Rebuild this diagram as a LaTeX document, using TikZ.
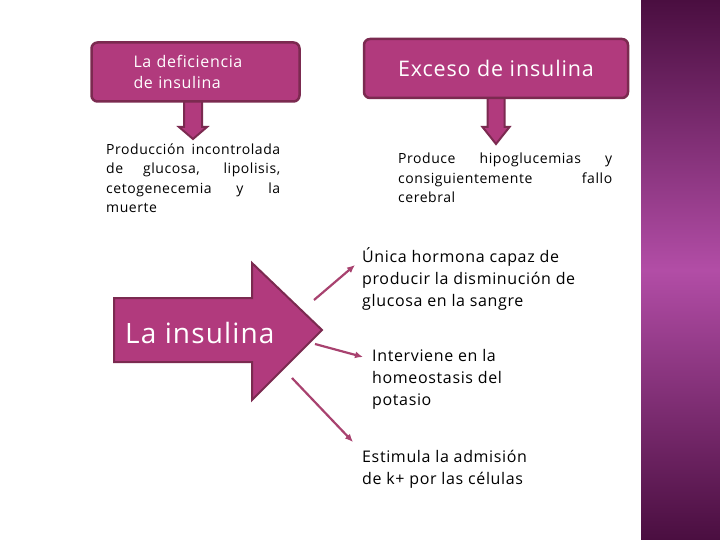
\documentclass[tikz,border=0pt]{standalone}
\usepackage{fontspec}
\setmainfont[Ligatures=NoCommon, LetterSpace=4]{Open Sans}
\usepackage{xcolor}
\usepackage{tikz}
\usetikzlibrary{arrows.meta, positioning}
\definecolor{plum}{HTML}{B13A7D}
\definecolor{plumdark}{HTML}{7B2A50}
\definecolor{linkc}{HTML}{A8426F}
\definecolor{stripdark}{HTML}{4A0E40}
\definecolor{striplight}{HTML}{B24DA6}

\begin{document}
\begin{tikzpicture}[x=1pt, y=-1pt,
            plumbox/.style={draw=plumdark, fill=plum, line width=2.5pt, rounded corners=6pt, text=white},
            plumarrow/.style={draw=plumdark, fill=plum, line width=2pt},
            link/.style={draw=linkc, line width=2.2pt, -{Latex[length=8pt, width=7pt]}},
            note/.style={anchor=north west, align=left, inner sep=0pt, font=\fontsize{16}{22}\selectfont},
            para/.style={anchor=north west, align=justify, inner sep=0pt, font=\fontsize{14}{19.5}\selectfont},
        ]
        \useasboundingbox (0,0) rectangle (720,540);
        \fill[white] (0,0) rectangle (720,540);
        \shade[top color=stripdark, bottom color=stripdark, middle color=striplight] (641,0) rectangle (720,540);
        % arrows under the two boxes
        \draw[plumarrow, shift={(193,0)}] (-9,94) -- (-9,127) -- (-14,127) -- (0,139) -- (14,127) -- (9,127) -- (9,94) -- cycle;
        \draw[plumarrow, shift={(496,0)}] (-8.5,94) -- (-8.5,127) -- (-13.5,127) -- (0,144) -- (13.5,127) -- (8.5,127) -- (8.5,94) -- cycle;
        \node[plumbox, minimum width=208, minimum height=59, text width=124, align=left,
              font=\fontsize{16}{21}\selectfont] (deficit) at (195.5,72) {La deficiencia\\de insulina};
        \node[plumbox, minimum width=264, minimum height=59,
              font=\fontsize{21.5}{25}\selectfont] (excess) at (496,68.5) {Exceso de insulina};
        \node[para, text width=174] (effect1) at (106,143.5) {Producción incontrolada\linebreak de glucosa, lipolisis,\linebreak cetogenecemia y la\linebreak muerte};
        \node[para, text width=214] (effect2) at (398,153) {Produce hipoglucemias y\linebreak consiguientemente fallo\linebreak cerebral};
        % big arrow
        \draw[plumarrow] (114,298) -- (252,298) -- (252,263) -- (322,330) -- (252,400) -- (252,362) -- (114,362) -- cycle;
        \node[anchor=west, text=white, inner sep=0pt, font=\fontsize{28}{34}\selectfont] (insulin) at (125,333) {La insulina};
        \coordinate (up) at (314,300);
        \coordinate (mid) at (315,344);
        \coordinate (down) at (292,378);
        \node[note] (unica) at (362,247) {Única hormona capaz de\\producir la disminución de\\glucosa en la sangre};
        \node[note] (interv) at (372,349) {Interviene en la\\homeostasis del\\potasio};
        \node[note] (estim) at (362,450) {Estimula la admisión\\de k+ por las células};
        \draw[link] (up) -- ([shift={(-7,18)}]unica.north west);
        \draw[link] (mid) -- ([shift={(-9,8)}]interv.north west);
        \draw[link] (down) -- ([shift={(-9,-8)}]estim.north west);
        \end{tikzpicture}
\end{document}
